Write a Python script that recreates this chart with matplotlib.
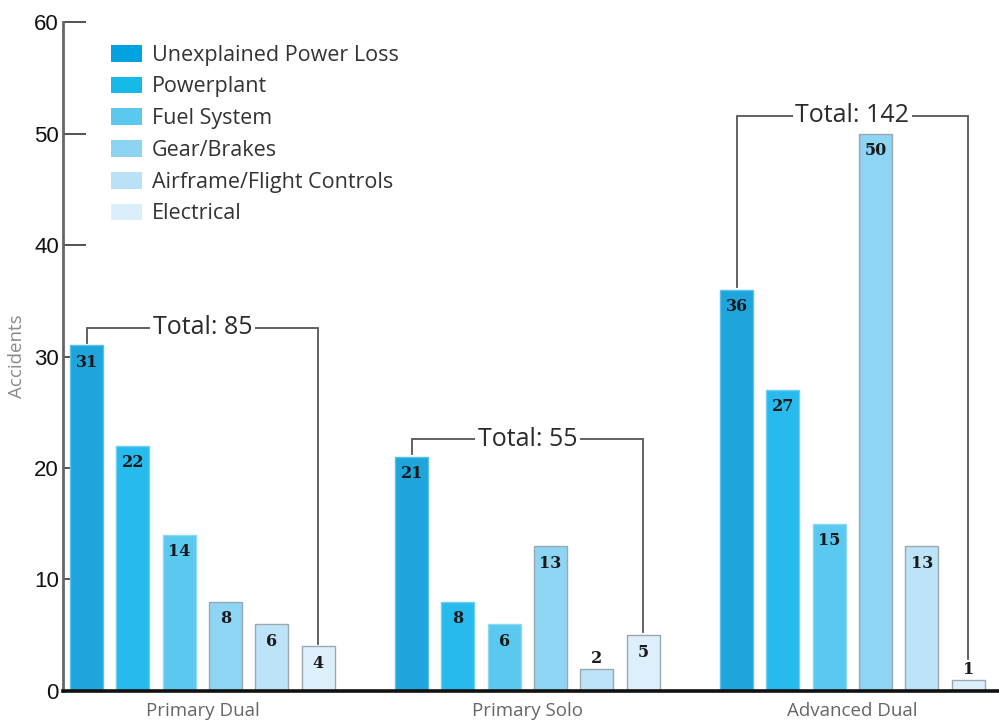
import matplotlib
matplotlib.use("Agg")
import matplotlib.pyplot as plt
from matplotlib.patches import Patch

groups = ["Primary Dual", "Primary Solo", "Advanced Dual"]
series = ["Unexplained Power Loss", "Powerplant", "Fuel System", "Gear/Brakes",
          "Airframe/Flight Controls", "Electrical"]
values = [
    [31, 22, 14, 8, 6, 4],
    [21, 8, 6, 13, 2, 5],
    [36, 27, 15, 50, 13, 1],
]
totals = [85, 55, 142]
yticks = [0, 10, 20, 30, 40, 50, 60]

face_colors = ["#1EA5DC", "#27BAEC", "#5BC8F0", "#8ED5F4", "#BCE3F7", "#DCEFFA"]
edge_colors = ["#5BBFE8", "#6DCDF2", "#8CD8F4", "#9AA8B0", "#9AA8B0", "#9AA8B0"]
legend_colors = ["#00A2DF", "#16BAE9", "#5BC8EE", "#8DD4F3", "#B9E2F6", "#DAEFFA"]

sans = ["Open Sans", "DejaVu Sans"]
serif = ["DejaVu Serif"]

fig = plt.figure(figsize=(9.99, 7.20), dpi=100)
ax = fig.add_axes([0.0631, 0.0403, 1 - 0.0631, 0.9694 - 0.0403])

pitch = 0.1425
width = 0.1015

for g, vals in enumerate(values):
    xs = [g + (i - 2.5) * pitch for i in range(len(vals))]
    for i, (x, v) in enumerate(zip(xs, vals)):
        ax.bar(x, v, width=width, color=face_colors[i], edgecolor=edge_colors[i],
               linewidth=1.0, zorder=2)
        off = -17 if v >= 4 else 10
        ax.annotate(str(v), (x, v), xytext=(0, off), textcoords="offset pixels",
                    ha="center", va="center", fontsize=11.5, fontweight="bold",
                    family=serif, color="#1a1a1a", zorder=3)
    # total bracket
    h = max(vals) + 1.6
    left_bottom = vals[0] + 0.25
    last = vals[-1]
    right_bottom = last + 0.25 if last >= 4 else last + 1.9
    ax.plot([xs[0], xs[0], xs[-1], xs[-1]], [left_bottom, h, h, right_bottom],
            color="#555555", linewidth=1.3, zorder=1, solid_joinstyle="miter")
    ax.text(g, h, f"Total: {totals[g]}", ha="center", va="center", fontsize=18,
            family=sans, color="#2b2b2b", zorder=4,
            bbox=dict(facecolor="white", edgecolor="none", pad=2.0))

ax.set_xlim(-0.429, 2.451)
ax.set_ylim(0, 60)
ax.set_yticks(yticks)
ax.set_yticklabels([str(t) for t in yticks], family="Liberation Sans",
                   fontsize=16, color="#111111")
ax.tick_params(axis="y", direction="in", length=16.5, width=1.3, color="#444444", pad=3)
ax.set_xticks(range(len(groups)))
ax.set_xticklabels(groups, family=sans, fontsize=13.5, color="#666666")
ax.tick_params(axis="x", length=0, pad=8)

for s in ["top", "right"]:
    ax.spines[s].set_visible(False)
ax.spines["left"].set_color("#666666")
ax.spines["left"].set_linewidth(2.0)
ax.spines["bottom"].set_color("#111111")
ax.spines["bottom"].set_linewidth(2.6)
ax.spines["bottom"].set_zorder(5)

ax.set_ylabel("Accidents", family=sans, fontsize=13.5, color="#8a8a8a")
ax.yaxis.set_label_coords(-0.0395, 0.50)

handles = [Patch(facecolor=c, edgecolor="none") for c in legend_colors]
fig.legend(handles, series, loc="upper left", bbox_to_anchor=(0.111, 0.938),
           frameon=False, prop={"family": sans, "size": 15.5}, handlelength=1.45,
           handleheight=0.82, handletextpad=0.45, labelspacing=0.5, borderpad=0,
           borderaxespad=0, labelcolor="#333333")

fig.savefig("out.png", dpi=100)
